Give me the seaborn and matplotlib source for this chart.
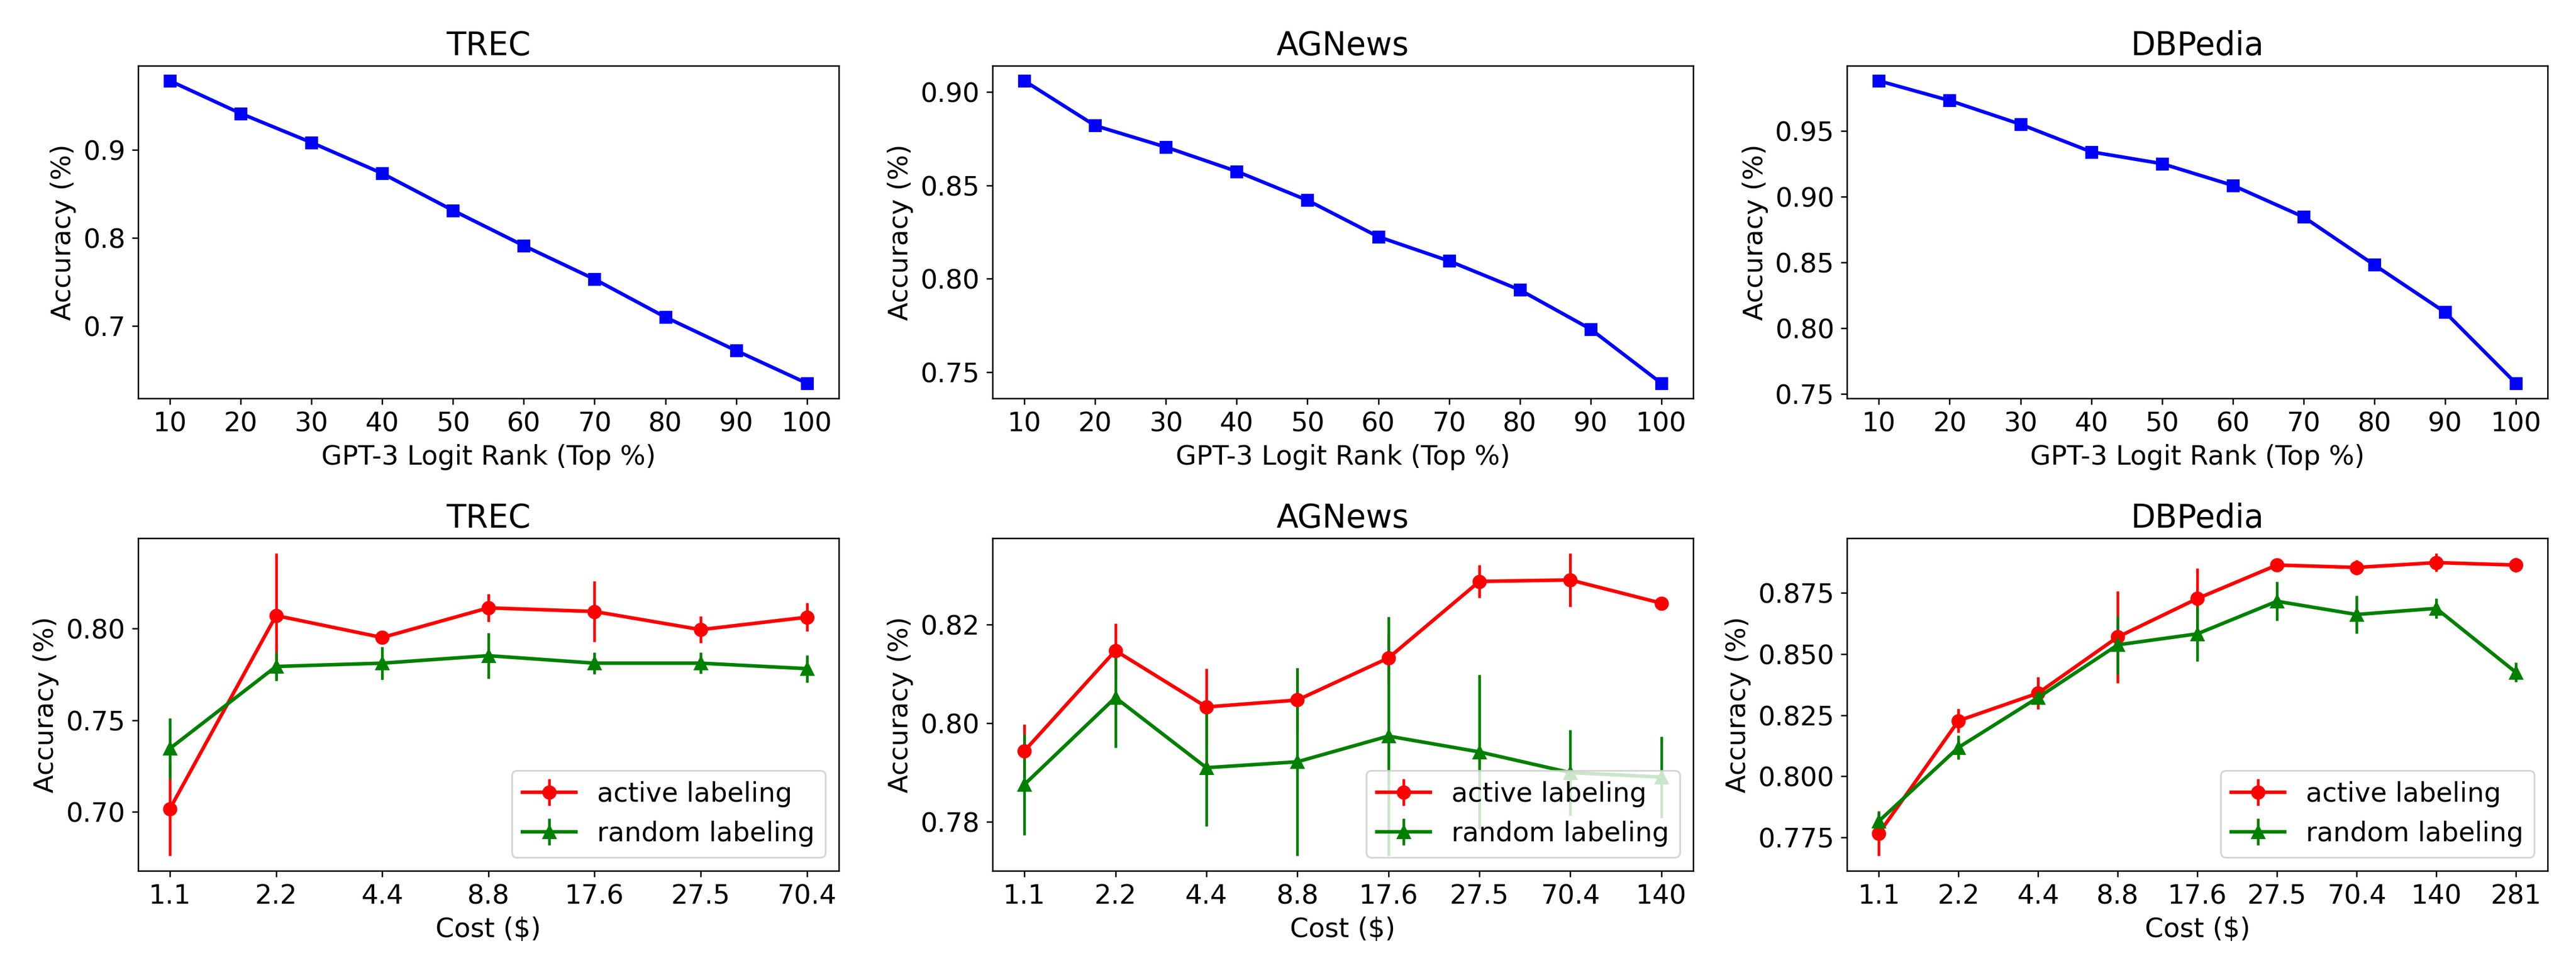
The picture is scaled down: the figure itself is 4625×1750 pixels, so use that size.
import numpy as np
import matplotlib
matplotlib.use("Agg")
import matplotlib.pyplot as plt
from matplotlib.ticker import FormatStrFormatter
import seaborn as sns

# ---------------- data ----------------
datasets = ["TREC", "AGNews", "DBPedia"]

logit_rank = [10, 20, 30, 40, 50, 60, 70, 80, 90, 100]
trec_rank_acc = [0.978, 0.941, 0.908, 0.873, 0.831, 0.791, 0.753, 0.710, 0.672, 0.635]
agnews_rank_acc = [0.906, 0.882, 0.8705, 0.8575, 0.842, 0.8225, 0.8095, 0.794, 0.773, 0.744]
dbpedia_rank_acc = [0.988, 0.973, 0.955, 0.934, 0.925, 0.9085, 0.8845, 0.848, 0.812, 0.758]

trec_cost = ["1.1", "2.2", "4.4", "8.8", "17.6", "27.5", "70.4"]
trec_active = [0.7017, 0.8072, 0.7952, 0.8114, 0.8094, 0.7995, 0.8063]
trec_active_err = [0.0256, 0.034, 0.002, 0.0075, 0.0166, 0.0072, 0.0077]
trec_random = [0.7346, 0.7794, 0.7812, 0.7853, 0.7812, 0.7812, 0.7782]
trec_random_err = [0.0166, 0.0078, 0.0089, 0.0125, 0.006, 0.0058, 0.0075]

agnews_cost = ["1.1", "2.2", "4.4", "8.8", "17.6", "27.5", "70.4", "140"]
agnews_active = [0.7944, 0.8147, 0.8033, 0.8047, 0.8132, 0.8287, 0.8290, 0.8243]
agnews_active_err = [0.0054, 0.0055, 0.0078, 0.0065, 0.005, 0.0033, 0.0054, 0.0005]
agnews_random = [0.7876, 0.8052, 0.7910, 0.7922, 0.7974, 0.7942, 0.7900, 0.7891]
agnews_random_err = [0.0102, 0.0102, 0.0119, 0.0190, 0.0242, 0.0156, 0.0087, 0.0082]

dbpedia_cost = ["1.1", "2.2", "4.4", "8.8", "17.6", "27.5", "70.4", "140", "281"]
dbpedia_active = [0.7767, 0.8227, 0.8340, 0.8569, 0.8726, 0.8863, 0.8853, 0.8873, 0.8863]
dbpedia_active_err = [0.0091, 0.0049, 0.0065, 0.0187, 0.0124, 0.001, 0.003, 0.0038, 0.003]
dbpedia_random = [0.7817, 0.8118, 0.8322, 0.8537, 0.8582, 0.8715, 0.8661, 0.8686, 0.8425]
dbpedia_random_err = [0.004, 0.0048, 0.003, 0.012, 0.0112, 0.008, 0.0077, 0.004, 0.004]

top_yticks = [[0.7, 0.8, 0.9],
              [0.75, 0.80, 0.85, 0.90],
              [0.75, 0.80, 0.85, 0.90, 0.95]]
top_fmt = ["%.1f", "%.2f", "%.2f"]
bot_yticks = [[0.70, 0.75, 0.80],
              [0.78, 0.80, 0.82],
              [0.775, 0.800, 0.825, 0.850, 0.875]]
bot_fmt = ["%.2f", "%.2f", "%.3f"]

# ---------------- style ----------------
DPI = 230
plt.rcParams["font.family"] = ["DejaVu Sans"]
plt.rcParams["font.size"] = 15

fig, axes = plt.subplots(2, 3, figsize=(4625 / DPI, 1750 / DPI), dpi=DPI)
fig.subplots_adjust(left=0.0536, right=0.989, top=0.9326, bottom=0.1069,
                    wspace=0.2196, hspace=0.4204)

top_data = [trec_rank_acc, agnews_rank_acc, dbpedia_rank_acc]
for i, ax in enumerate(axes[0]):
    sns.lineplot(x=logit_rank, y=top_data[i], ax=ax, color="blue", marker="s",
                 markersize=6, mec="blue", mew=1, linewidth=2)
    ax.set_xticks(logit_rank)
    ax.set_xticklabels([str(v) for v in logit_rank])
    ax.set_yticks(top_yticks[i])
    ax.yaxis.set_major_formatter(FormatStrFormatter(top_fmt[i]))
    ax.set_title(datasets[i])
    ax.set_xlabel("GPT-3 Logit Rank (Top %)")
    ax.set_ylabel("Accuracy (%)")

bottom = [
    (trec_cost, trec_active, trec_active_err, trec_random, trec_random_err),
    (agnews_cost, agnews_active, agnews_active_err, agnews_random, agnews_random_err),
    (dbpedia_cost, dbpedia_active, dbpedia_active_err, dbpedia_random, dbpedia_random_err),
]
for i, ax in enumerate(axes[1]):
    cost, act, act_e, rnd, rnd_e = bottom[i]
    x = np.arange(len(cost))
    ax.errorbar(x, act, yerr=act_e, color="red", marker="o", markersize=7,
                linewidth=2, elinewidth=1.5, label="active labeling")
    ax.errorbar(x, rnd, yerr=rnd_e, color="green", marker="^", markersize=7,
                linewidth=2, elinewidth=1.5, label="random labeling")
    ax.set_xticks(x)
    ax.set_xticklabels(cost)
    ax.set_yticks(bot_yticks[i])
    ax.yaxis.set_major_formatter(FormatStrFormatter(bot_fmt[i]))
    ax.set_title(datasets[i])
    ax.set_xlabel("Cost (\\$)")
    ax.set_ylabel("Accuracy (%)")
    ax.legend(loc="lower right")

fig.savefig("out.png", dpi=DPI)
